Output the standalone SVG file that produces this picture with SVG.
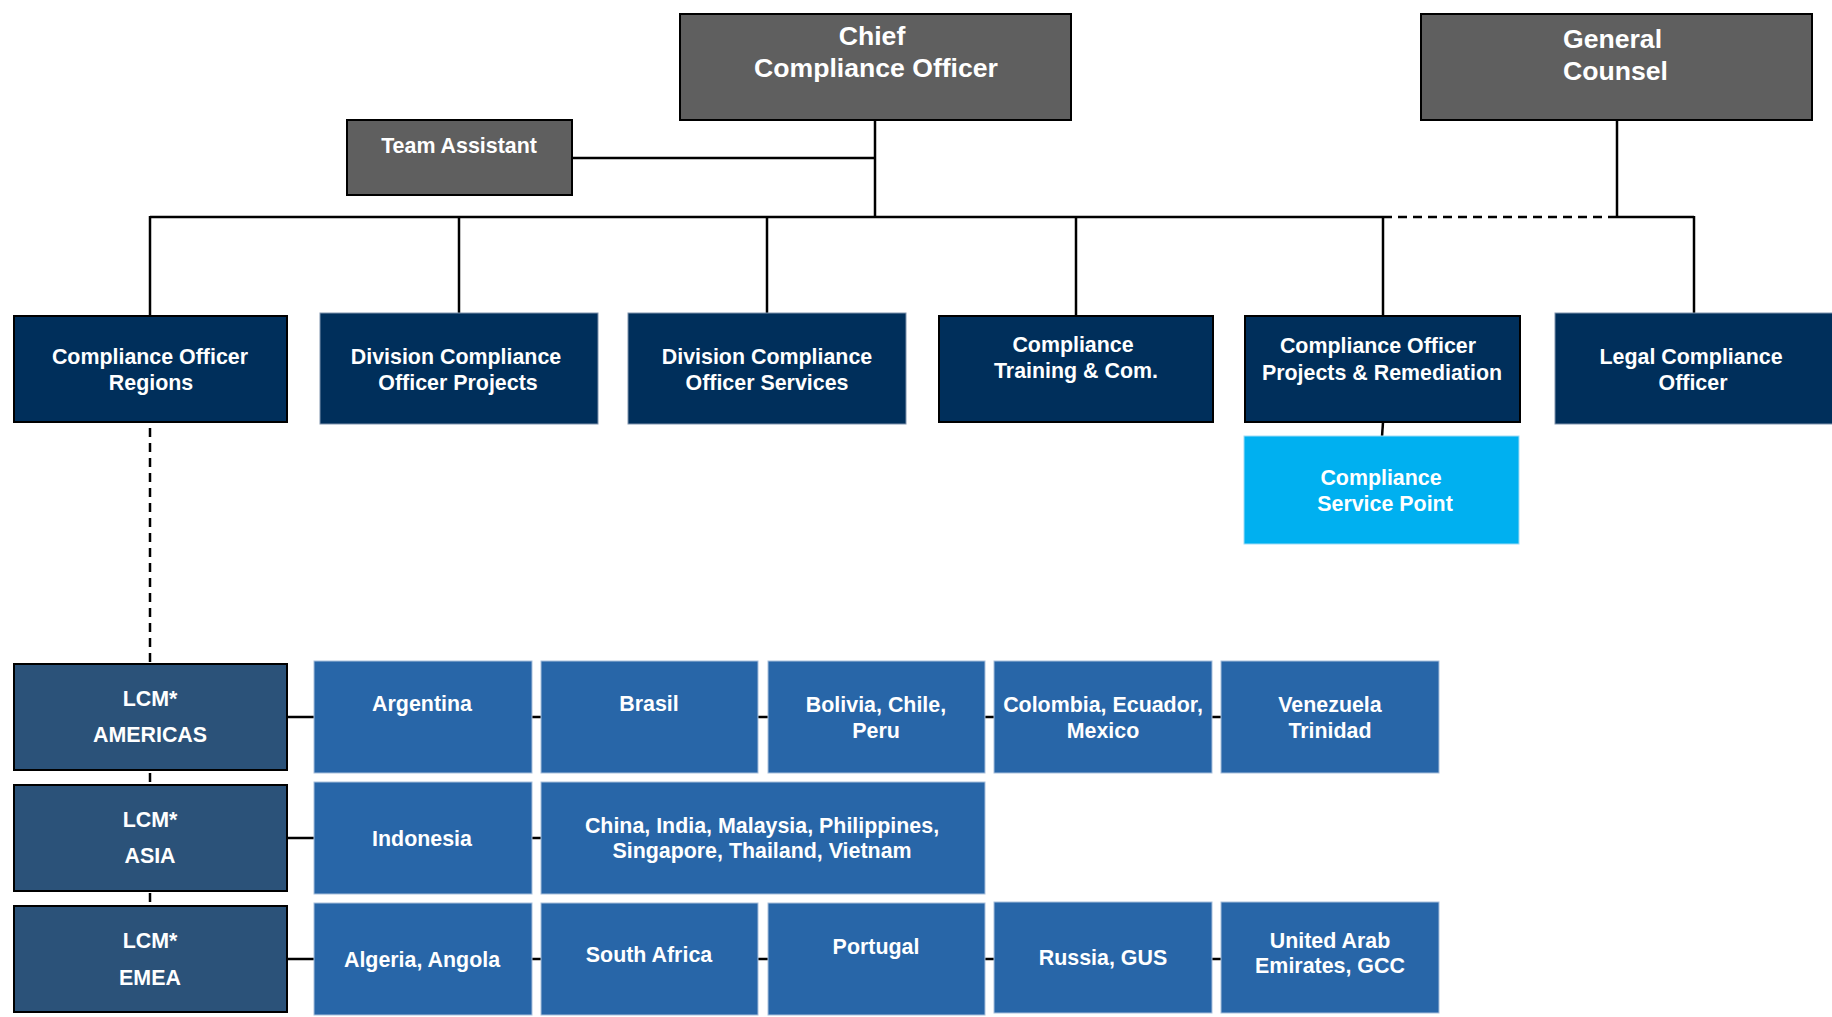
<svg xmlns="http://www.w3.org/2000/svg" width="1832" height="1017" viewBox="0 0 1832 1017">
<style>
text{font-family:"Liberation Sans",Arial,sans-serif;font-weight:bold;fill:#ffffff;text-anchor:middle;font-size:21.4px}
.big{font-size:26.6px}
.gray{fill:#5f5f5f;stroke:#000;stroke-width:2}
.navyb{fill:#002f5b;stroke:#000;stroke-width:2}
.navy{fill:#002f5b;stroke:#7f93ad;stroke-width:1}
.lcm{fill:#2b5279;stroke:#000;stroke-width:2}
.cty{fill:#2866a8;stroke:#a7bfdc;stroke-width:1}
.csp{fill:#00b0f0;stroke:#9fdcf6;stroke-width:1}
.ln{stroke:#000;stroke-width:2.5;fill:none}
.dash{stroke:#000;stroke-width:2.5;fill:none;stroke-dasharray:9 6}
</style>
<rect width="1832" height="1017" fill="#ffffff"/>
<g id="connectors">
<line class="ln" x1="875" y1="120" x2="875" y2="217"/>
<line class="ln" x1="572" y1="158" x2="875" y2="158"/>
<line class="ln" x1="150" y1="217" x2="1383" y2="217"/>
<line class="dash" x1="1383" y1="217" x2="1617" y2="217"/>
<line class="ln" x1="1617" y1="217" x2="1694" y2="217"/>
<line class="ln" x1="1617" y1="120" x2="1617" y2="218"/>
<line class="ln" x1="150" y1="216" x2="150" y2="316"/>
<line class="ln" x1="459" y1="216" x2="459" y2="314"/>
<line class="ln" x1="767" y1="216" x2="767" y2="314"/>
<line class="ln" x1="1076" y1="216" x2="1076" y2="316"/>
<line class="ln" x1="1383" y1="216" x2="1383" y2="316"/>
<line class="ln" x1="1694" y1="216" x2="1694" y2="314"/>
<line class="ln" x1="1383" y1="422" x2="1382" y2="437"/>
<line class="dash" x1="150" y1="428" x2="150" y2="906"/>
<line class="ln" x1="287" y1="717" x2="1221" y2="717"/>
<line class="ln" x1="287" y1="838" x2="541" y2="838"/>
<line class="ln" x1="287" y1="959" x2="1221" y2="959"/>
</g>
<g id="cco"><rect class="gray" x="680" y="14" width="391" height="106"/><text class="big" x="872" y="45">Chief</text><text class="big" x="876" y="77">Compliance Officer</text></g>
<g id="gc"><rect class="gray" x="1421" y="14" width="391" height="106"/><text class="big" x="1563" y="48" style="text-anchor:start">General</text><text class="big" x="1563" y="80" style="text-anchor:start">Counsel</text></g>
<g id="team-assistant"><rect class="gray" x="347" y="120" width="225" height="75"/><text x="459" y="153">Team Assistant</text></g>
<g id="co-regions"><rect class="navyb" x="14" y="316" width="273" height="106"/><text x="150" y="364">Compliance Officer</text><text x="151" y="390">Regions</text></g>
<g id="dco-projects"><rect class="navy" x="320" y="313" width="278" height="111"/><text x="456" y="364">Division Compliance</text><text x="458" y="390">Officer Projects</text></g>
<g id="dco-services"><rect class="navy" x="628" y="313" width="278" height="111"/><text x="767" y="364">Division Compliance</text><text x="767" y="390">Officer Services</text></g>
<g id="training"><rect class="navyb" x="939" y="316" width="274" height="106"/><text x="1073" y="352">Compliance</text><text x="1076" y="378">Training &amp; Com.</text></g>
<g id="co-projects-remediation"><rect class="navyb" x="1245" y="316" width="275" height="106"/><text x="1378" y="353">Compliance Officer</text><text x="1382" y="380">Projects &amp; Remediation</text></g>
<g id="legal"><rect class="navy" x="1555" y="313" width="280" height="111"/><text x="1691" y="364">Legal Compliance</text><text x="1693" y="390">Officer</text></g>
<g id="service-point"><rect class="csp" x="1244" y="436" width="275" height="108"/><text x="1381" y="485">Compliance</text><text x="1385" y="511">Service Point</text></g>
<g id="lcm-americas"><rect class="lcm" x="14" y="664" width="273" height="106"/><text x="150" y="706">LCM*</text><text x="150" y="742">AMERICAS</text></g>
<g id="argentina"><rect class="cty" x="314" y="661" width="218" height="112"/><text x="422" y="711">Argentina</text></g>
<g id="brasil"><rect class="cty" x="541" y="661" width="217" height="112"/><text x="649" y="711">Brasil</text></g>
<g id="bolivia"><rect class="cty" x="768" y="661" width="217" height="112"/><text x="876" y="712">Bolivia, Chile,</text><text x="876" y="738">Peru</text></g>
<g id="colombia"><rect class="cty" x="994" y="661" width="218" height="112"/><text x="1103" y="712">Colombia, Ecuador,</text><text x="1103" y="738">Mexico</text></g>
<g id="venezuela"><rect class="cty" x="1221" y="661" width="218" height="112"/><text x="1330" y="712">Venezuela</text><text x="1330" y="738">Trinidad</text></g>
<g id="lcm-asia"><rect class="lcm" x="14" y="785" width="273" height="106"/><text x="150" y="827">LCM*</text><text x="150" y="863">ASIA</text></g>
<g id="indonesia"><rect class="cty" x="314" y="782" width="218" height="112"/><text x="422" y="846">Indonesia</text></g>
<g id="china"><rect class="cty" x="541" y="782" width="444" height="112"/><text x="762" y="833">China, India, Malaysia, Philippines,</text><text x="762" y="858">Singapore, Thailand, Vietnam</text></g>
<g id="lcm-emea"><rect class="lcm" x="14" y="906" width="273" height="106"/><text x="150" y="948">LCM*</text><text x="150" y="985">EMEA</text></g>
<g id="algeria"><rect class="cty" x="314" y="903" width="218" height="112"/><text x="422" y="967">Algeria, Angola</text></g>
<g id="south-africa"><rect class="cty" x="541" y="903" width="217" height="112"/><text x="649" y="962">South Africa</text></g>
<g id="portugal"><rect class="cty" x="768" y="903" width="217" height="112"/><text x="876" y="954">Portugal</text></g>
<g id="russia"><rect class="cty" x="994" y="902" width="218" height="111"/><text x="1103" y="965">Russia, GUS</text></g>
<g id="uae"><rect class="cty" x="1221" y="902" width="218" height="111"/><text x="1330" y="948">United Arab</text><text x="1330" y="973">Emirates, GCC</text></g>
</svg>
